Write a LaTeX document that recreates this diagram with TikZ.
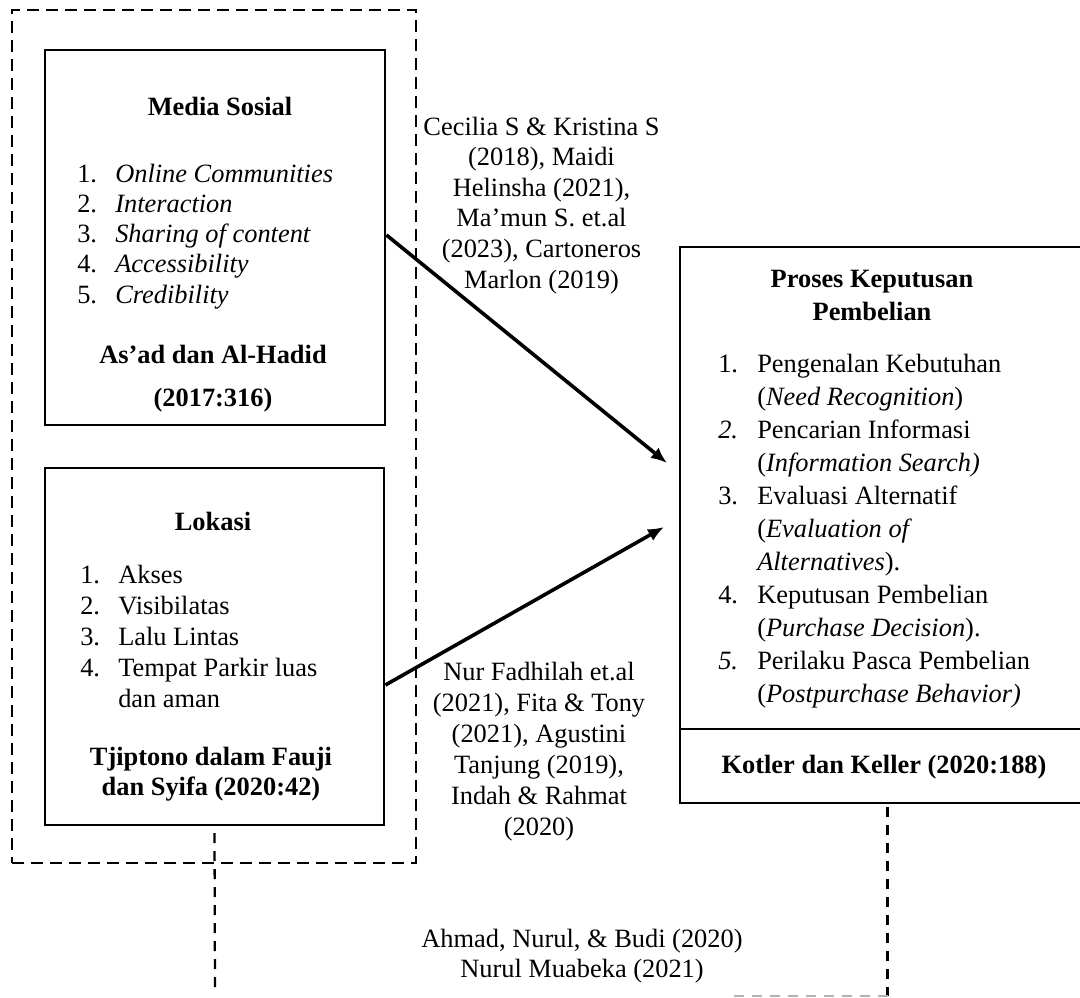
\documentclass[tikz,border=0pt]{standalone}
\usepackage{fontspec}
\setmainfont{Liberation Serif}
\usetikzlibrary{arrows.meta,fit,calc}
\newcommand{\tb}[2]{\begin{tabular}[t]{@{}#1@{}}#2\end{tabular}}
\begin{document}
\begin{tikzpicture}[x=0.75pt,y=-0.75pt,
  solidbox/.style={draw,line width=2.1pt,inner sep=0pt},
  rightbox/.style={draw,line width=2.2pt,inner sep=0pt},
  grpbox/.style={draw,line width=1.7pt,dash pattern=on 9pt off 5.25pt,inner sep=0pt},
  dline/.style={line width=1.7pt,dash pattern=on 7.5pt off 6pt},
  arr/.style={line width=2.7pt,-{Latex[length=12pt,width=10pt]}},
  txt/.style={inner sep=0pt,font=\fontsize{19.8pt}{#1}\selectfont},
  txt/.default=23pt]
\useasboundingbox (0,0) rectangle (1080,997);

% boxes
\node[grpbox, fit={(12,10) (416,863)}] (grp) {};
\node[solidbox, fit={(45,50) (385,425)}] (media) {};
\node[solidbox, fit={(45,468) (384,825)}] (lok) {};
\node[rightbox, fit={(680,247) (1095,803)}] (kpb) {};
\coordinate (d1) at (0,729);
\draw[line width=2.2pt] (kpb.west |- d1) -- (kpb.east |- d1);

% Media Sosial
\node[txt, anchor=base] (mhead) at (220,115) {\textbf{Media Sosial}};
\node[txt={22.7pt}, anchor=base west] (mlist) at (77,182)
  {\tb{p{28.5pt}@{}l}{1. & \textit{Online Communities}\\ 2. & \textit{Interaction}\\ 3. & \textit{Sharing of content}\\ 4. & \textit{Accessibility}\\ 5. & \textit{Credibility}}};
\node[txt, anchor=base] (mref) at (213,363)
  {\tb{c}{\textbf{As’ad dan Al-Hadid}\\[9.3pt] \textbf{(2017:316)}}};

% Lokasi
\node[txt, anchor=base] (lhead) at (213,530) {\textbf{Lokasi}};
\node[txt={23.25pt}, anchor=base west] (llist) at (80,583)
  {\tb{p{28.5pt}@{}l}{1. & Akses\\ 2. & Visibilatas\\ 3. & Lalu Lintas\\ 4. & Tempat Parkir luas\\ & dan aman}};
\node[txt={22.5pt}, anchor=base] (lref) at (211,765)
  {\tb{c}{\textbf{Tjiptono dalam Fauji}\\ \textbf{dan Syifa (2020:42)}}};

% Proses Keputusan Pembelian
\node[txt={24.75pt}, anchor=base] (khead) at (872,287)
  {\tb{c}{\textbf{Proses Keputusan}\\ \textbf{Pembelian}}};
\node[txt={24.8pt}, anchor=base west] (klist) at (718,372)
  {\tb{p{29.25pt}@{}l}{1. & Pengenalan Kebutuhan\\ & (\textit{Need Recognition})\\ \textit{2.} & Pencarian Informasi\\ & (\textit{Information Search)}\\ 3. & Evaluasi Alternatif\\ & (\textit{Evaluation of}\\ & \textit{Alternatives}).\\ 4. & Keputusan Pembelian\\ & (\textit{Purchase Decision}).\\ \textit{5.} & Perilaku Pasca Pembelian\\ & (\textit{Postpurchase Behavior)}}};
\node[txt, anchor=base] (kref) at (884,773) {\textbf{Kotler dan Keller (2020:188)}};

% citations
\node[txt={22.95pt}, anchor=base] (cit1) at (541.5,135)
  {\tb{c}{Cecilia S \& Kristina S\\ (2018), Maidi\\ Helinsha (2021),\\ Ma’mun S. et.al\\ (2023), Cartoneros\\ Marlon (2019)}};
\node[txt={23.25pt}, anchor=base] (cit2) at (539,680)
  {\tb{c}{Nur Fadhilah et.al\\ (2021), Fita \& Tony\\ (2021), Agustini\\ Tanjung (2019),\\ Indah \& Rahmat\\ (2020)}};
\node[txt={22.5pt}, anchor=base] (cit3) at (582,947)
  {\tb{c}{Ahmad, Nurul, \& Budi (2020)\\ Nurul Muabeka (2021)}};

% arrows
\coordinate (a1s) at (0,235);
\coordinate (a1e) at (667,463);
\draw[arr] (media.east |- a1s) -- (a1e);
\coordinate (a2s) at (0,685);
\coordinate (a2e) at (664,527);
\draw[arr] (lok.east |- a2s) -- (a2e);

% dashed connectors
\coordinate (v1e) at (215,995);
\draw[dline] ([yshift=-5pt]lok.south) -- (v1e);
\coordinate (v2e) at (887.5,996);
\coordinate (h2e) at (728,996);
\draw[dline] ([yshift=-2pt]kpb.south) -- (v2e);
\draw[dline, gray!60] (v2e) -- (h2e);
\end{tikzpicture}
\end{document}
